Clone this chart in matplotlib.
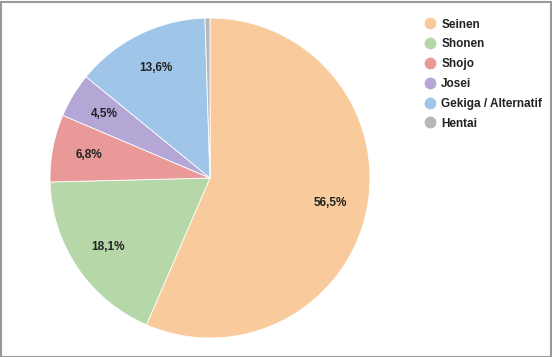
import matplotlib.pyplot as plt
from matplotlib.lines import Line2D
from matplotlib.patches import Rectangle

plt.rcParams['font.family'] = ['Liberation Sans', 'DejaVu Sans']

genres = ["Seinen", "Shonen", "Shojo", "Josei", "Gekiga / Alternatif", "Hentai"]
shares = [56.5, 18.1, 6.8, 4.5, 13.6, 0.5]
colors = ["#f9cb9c", "#b6d7a8", "#ea9999", "#b4a7d6", "#9fc5e8", "#b7b7b7"]

W, H = 552, 357
fig = plt.figure(figsize=(W / 100, H / 100), dpi=100)

# pie centre ~ (210, 178) px, radius ~160 px
cx, cy, r = 210, 178, 160
ax = fig.add_axes([(cx - r) / W, (H - cy - r) / H, 2 * r / W, 2 * r / H])


def fmt(p):
    if p < 1:
        return ""
    return f"{p:.1f}".replace(".", ",") + "%"


wedges, texts, autotexts = ax.pie(
    shares, colors=colors, startangle=90, counterclock=False,
    autopct=fmt, pctdistance=0.77,
    wedgeprops=dict(edgecolor="white", linewidth=0.6),
    textprops=dict(fontsize=8.5, fontweight="bold", color="#222222"),
)
ax.set_xlim(-1, 1)
ax.set_ylim(-1, 1)
ax.set_aspect("equal")

handles = [Line2D([], [], marker="o", linestyle="", markersize=7.5,
                  markerfacecolor=c, markeredgecolor=c) for c in colors]
fig.legend(handles, genres, loc="upper left",
           bbox_to_anchor=(413 / W, 1 - 8 / H), frameon=False,
           prop=dict(size=8.5, weight="bold"), labelcolor="#222222",
           handletextpad=0.5, labelspacing=0.66, handlelength=1.0)

fig.patches.append(Rectangle((0.5 / W, 0.5 / H), 1 - 2 / W, 1 - 2 / H,
                             transform=fig.transFigure, fill=False,
                             edgecolor="#999999", linewidth=1.5))

fig.savefig("out.png", dpi=100)
